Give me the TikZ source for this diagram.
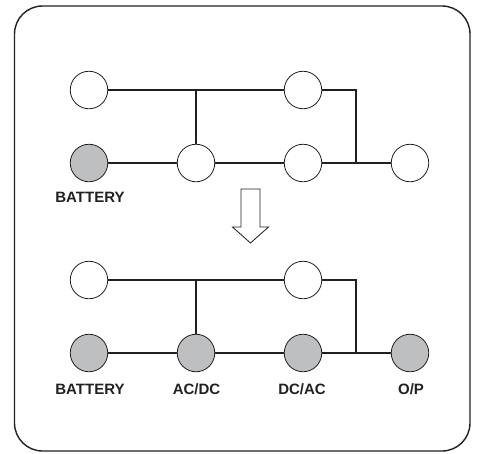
\documentclass[tikz,border=0pt]{standalone}
\usepackage{fontspec}
\setmainfont{Liberation Sans}
\usepackage{tikz}
\usetikzlibrary{positioning}
\definecolor{cellgrey}{RGB}{190,191,193}
\definecolor{ink}{RGB}{35,31,32}

\begin{document}
\begin{tikzpicture}[x=1pt,y=-1pt,
                    unit/.style={circle,draw=ink,line width=0.8pt,fill=white,inner sep=0pt,minimum size=37.5pt},
                    on/.style={unit,fill=cellgrey},
                    wire/.style={draw=ink,line width=1.7pt},
                    lbl/.style={text=ink,font=\bfseries\fontsize{15}{15}\selectfont}]
  \useasboundingbox (0,0) rectangle (477,453);
  \draw[ink,line width=1.4pt,rounded corners=28pt] (14.5,6) rectangle (470,451);
  % before
  \node[unit] (a1) at (89,90) {};
  \node[unit] (a2) at (303,90) {};
  \node[on]   (b1) at (89,163) {};
  \node[unit] (b2) at (196,163) {};
  \node[unit] (b3) at (303,163) {};
  \node[unit] (b4) at (410,163) {};
  \coordinate (k1) at (196,90);
  \coordinate (j1) at (356,163);
  \draw[wire] (a1) -- (a2);
  \draw[wire] (b1) -- (b2);
  \draw[wire] (b2) -- (b3);
  \draw[wire] (b3) -- (b4);
  \draw[wire] (a2) -| (j1);
  \draw[wire] (k1) -- (b2);
  \node[lbl] (bat1) at (90,197) {BATTERY};
  % arrow
  \draw[ink,line width=0.8pt,fill=white] (241,189) -- (260,189) -- (260,227) -- (268.5,227)
    -- (250.5,243) -- (232.5,227) -- (241,227) -- cycle;
  % after
  \node[unit] (c1) at (89,280) {};
  \node[unit] (c2) at (303,280) {};
  \node[on]   (d1) at (89,353) {};
  \node[on]   (d2) at (196,353) {};
  \node[on]   (d3) at (303,353) {};
  \node[on]   (d4) at (410,353) {};
  \coordinate (k2) at (196,280);
  \coordinate (j2) at (356,353);
  \draw[wire] (c1) -- (c2);
  \draw[wire] (d1) -- (d2);
  \draw[wire] (d2) -- (d3);
  \draw[wire] (d3) -- (d4);
  \draw[wire] (c2) -| (j2);
  \draw[wire] (k2) -- (d2);
  \node[lbl] (bat2) at (90,389) {BATTERY};
  \node[lbl] (acdc) at (196.5,389) {AC/DC};
  \node[lbl] (dcac) at (302,389) {DC/AC};
  \node[lbl] (op)   at (411,389) {O/P};
\end{tikzpicture}
\end{document}
